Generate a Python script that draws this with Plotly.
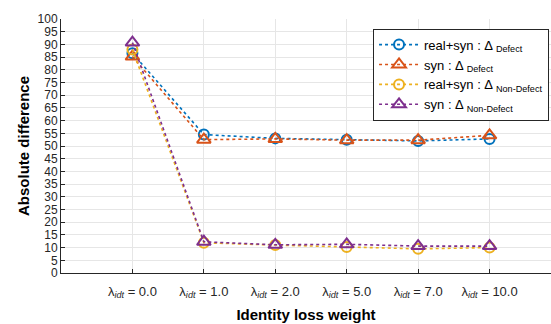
import plotly.graph_objects as go

categories = ["0.0", "1.0", "2.0", "5.0", "7.0", "10.0"]
tick_labels = ["λ<sub><i>idt</i></sub> = " + c for c in categories]

realsyn_defect = [86.5, 54.5, 53.0, 52.5, 52.0, 52.8]
syn_defect = [85.2, 52.5, 52.8, 52.3, 52.3, 54.2]
realsyn_nondefect = [88.0, 11.9, 11.0, 10.2, 9.5, 10.0]
syn_nondefect = [90.7, 12.3, 11.1, 11.3, 10.6, 10.6]

series = [
    ("real+syn : Δ <sub>Defect</sub>", realsyn_defect, "#0072BD", "circle-open", 10),
    ("syn : Δ <sub>Defect</sub>", syn_defect, "#D95319", "triangle-up-open", 12),
    ("real+syn : Δ <sub>Non-Defect</sub>", realsyn_nondefect, "#EDB120", "circle-open", 10),
    ("syn : Δ <sub>Non-Defect</sub>", syn_nondefect, "#7E2F8E", "triangle-up-open", 12),
]

fig = go.Figure()
xs = list(range(len(categories)))
for name, vals, color, sym, size in series:
    fig.add_trace(go.Scatter(
        x=xs, y=vals, name=name, mode="lines+markers",
        line=dict(color=color, width=1.6, dash="dot"),
        marker=dict(symbol=sym, size=size, color=color, line=dict(color=color, width=2)),
    ))

fig.update_layout(
    width=551, height=324,
    margin=dict(l=61, r=0, t=19, b=51),
    paper_bgcolor="white", plot_bgcolor="white",
    font=dict(family="Liberation Sans, Arial, sans-serif", size=12, color="#262626"),
    showlegend=True,
    legend=dict(
        x=0.996, y=0.962, xanchor="right", yanchor="top",
        bgcolor="white", bordercolor="#262626", borderwidth=1,
        font=dict(size=13, color="black"),
        tracegroupgap=4, itemwidth=40,
    ),
)
fig.update_xaxes(
    range=[-1, 5.86],
    tickmode="array", tickvals=xs, ticktext=tick_labels,
    showgrid=True, gridcolor="#e6e6e6", gridwidth=1,
    showline=True, linecolor="#262626", linewidth=1,
    ticks="inside", ticklen=4, tickcolor="#262626",
    tickfont=dict(size=13, color="#262626"),
    ticklabelstandoff=6,
    title=dict(text="<b>Identity loss weight</b>", font=dict(size=15, color="black"), standoff=10),
    zeroline=False,
)
fig.update_yaxes(
    range=[0, 100], tickmode="linear", tick0=0, dtick=5,
    showgrid=True, gridcolor="#e6e6e6", gridwidth=1,
    showline=True, linecolor="#262626", linewidth=1,
    ticks="inside", ticklen=4, tickcolor="#262626",
    tickfont=dict(size=12, color="#262626"),
    title=dict(text="<b>Absolute difference</b>", font=dict(size=15, color="black"), standoff=4),
    zeroline=False,
)

fig.write_html("out.html")
